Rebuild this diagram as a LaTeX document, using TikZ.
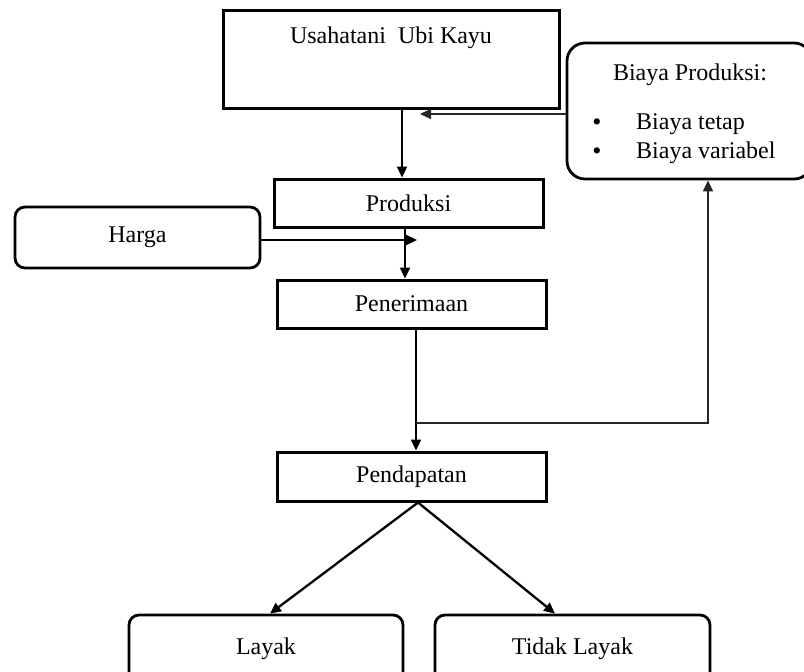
\documentclass[tikz,border=0pt]{standalone}
\usepackage{fontspec}
\setmainfont{Liberation Serif}
\usetikzlibrary{arrows.meta,calc}
\begin{document}
\begin{tikzpicture}[x=1pt,y=-1pt,
  every node/.style={font=\fontsize{24}{28}\selectfont},
  sqbox/.style={draw, line width=3pt, inner sep=0pt},
  rbox/.style={draw, line width=2.8pt, rounded corners=10pt, inner sep=0pt},
  arr/.style={line width=2.3pt, -{Triangle[length=11pt,width=10pt]}},
  thinarr/.style={line width=1.6pt, draw=black!85, -{Triangle[length=11pt,width=10pt]}},
  plain/.style={inner sep=0pt},
  bul/.style={inner sep=0pt, font=\fontsize{26}{26}\selectfont}
]
\useasboundingbox (0,0) rectangle (804,672);
\fill[white] (0,0) rectangle (804,672);
\clip (0,0) rectangle (804,672);

% boxes
\node[sqbox, minimum width=336pt, minimum height=98pt] (usaha) at (391,59) {};
\node[plain, anchor=base] (usahatext) at (391,43) {Usahatani\ \ Ubi Kayu};
\node[sqbox, minimum width=269pt, minimum height=48pt] (produksi) at (408.5,203) {Produksi};
\node[rbox, minimum width=245pt, minimum height=61pt] (harga) at (137.5,237.5) {Harga};
\node[sqbox, minimum width=269pt, minimum height=48pt] (penerimaan) at (411.5,304) {Penerimaan};
\node[sqbox, minimum width=269pt, minimum height=49pt] (pendapatan) at (411.5,476.5) {Pendapatan};
\node[rbox, rounded corners=18pt, minimum width=245pt, minimum height=136pt] (biaya) at (689.5,111) {};
\node[plain, anchor=base] (biayatitle) at (690,80) {Biaya Produksi:};
\node[bul, anchor=base] (bul1) at (597,130) {•};
\node[plain, anchor=base west] (item1) at (636,129) {Biaya tetap};
\node[bul, anchor=base] (bul2) at (597,159) {•};
\node[plain, anchor=base west] (item2) at (636,158) {Biaya variabel};
\node[rbox, minimum width=274pt, minimum height=67pt] (layak) at (266,648.5) {Layak};
\node[rbox, minimum width=275pt, minimum height=67pt] (tidak) at (572.5,648.5) {Tidak Layak};

% connectors
\coordinate (c1) at (402,0);
\draw[arr] (usaha.south -| c1) -- (produksi.north -| c1);
\coordinate (fb) at (420,114);
\draw[thinarr] (biaya.west |- fb) -- (fb);
\coordinate (hb) at (417,240);
\draw[arr] (harga.east |- hb) -- (hb);
\coordinate (c2) at (405,0);
\draw[arr] (produksi.south -| c2) -- (penerimaan.north -| c2);
\coordinate (c3) at (416,0);
\draw[arr] (penerimaan.south -| c3) -- (pendapatan.north -| c3);
\coordinate (j) at (416,423);
\coordinate (c4) at (708,423);
\draw[thinarr] (j) -- (c4) -- (biaya.south -| c4);
\coordinate (pv) at (418,0);
\coordinate (lt) at (270,0);
\coordinate (tt) at (555,0);
\draw[arr] (pendapatan.south -| pv) -- (layak.north -| lt);
\draw[arr] (pendapatan.south -| pv) -- (tidak.north -| tt);
\end{tikzpicture}
\end{document}
